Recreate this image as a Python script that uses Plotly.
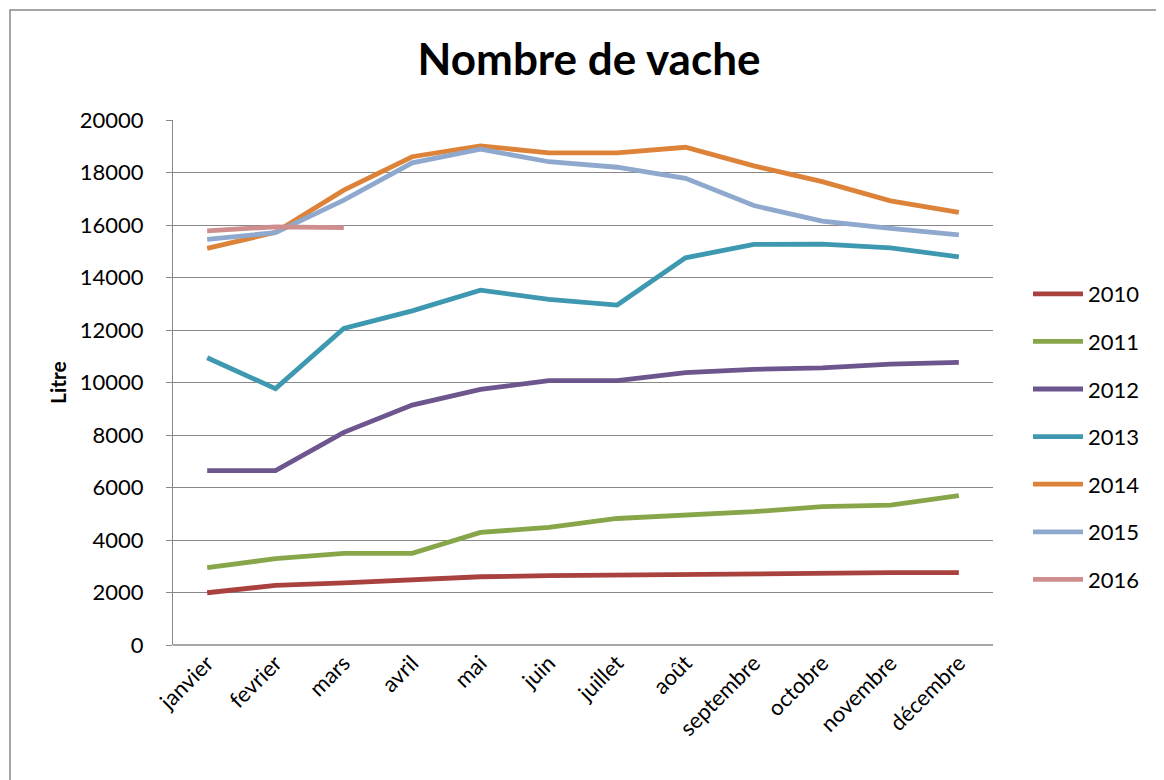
import plotly.graph_objects as go

months = ["janvier", "fevrier", "mars", "avril", "mai", "juin", "juillet",
          "août", "septembre", "octobre", "novembre", "décembre"]

y2010 = [1990, 2270, 2370, 2500, 2600, 2640, 2670, 2690, 2715, 2730, 2755, 2755]
y2011 = [2945, 3290, 3490, 3490, 4290, 4480, 4820, 4950, 5080, 5270, 5330, 5690]
y2012 = [6640, 6640, 8100, 9140, 9740, 10070, 10070, 10375, 10500, 10560, 10700, 10770]
y2013 = [10945, 9765, 12060, 12730, 13520, 13170, 12950, 14750, 15260, 15270, 15130, 14790]
y2014 = [15110, 15720, 17330, 18600, 19010, 18750, 18750, 18960, 18250, 17650, 16920, 16480]
y2015 = [15450, 15710, 16950, 18370, 18890, 18410, 18200, 17780, 16740, 16150, 15870, 15620]
y2016 = [15780, 15930, 15900]

series = [
    ("2010", y2010, "#A9423F"),
    ("2011", y2011, "#87A64A"),
    ("2012", y2012, "#6D558E"),
    ("2013", y2013, "#3D98B0"),
    ("2014", y2014, "#DD8339"),
    ("2015", y2015, "#8FA8CD"),
    ("2016", y2016, "#CE8E8E"),
]

FONT = "Lato, 'Open Sans', sans-serif"

# page offset (body margin) compensation
OX, OY = 8, 8
PL, PR, PT, PB = 173, 993, 120, 645  # target plot area in screen pixels
PW, PH = PR - PL, PB - PT

fig = go.Figure()
for name, vals, col in series:
    fig.add_trace(go.Scatter(
        x=months[:len(vals)], y=vals, name=name, mode="lines",
        line=dict(color=col, width=4.8), legendgroup=name,
    ))

fig.update_layout(
    width=1164, height=780,
    margin=dict(l=PL - OX, r=1164 + OX - PR, t=PT - OY, b=780 + OY - PB),
    paper_bgcolor="white", plot_bgcolor="white",
    font=dict(family=FONT, color="black", size=22),
    showlegend=True,
    legend=dict(x=(1028 - PL) / PW, y=(PB - 437) / PH, xanchor="left", yanchor="middle",
                font=dict(size=22, family=FONT), tracegroupgap=16,
                itemwidth=50, bgcolor="rgba(0,0,0,0)"),
    title=dict(text="<b>Nombre de vache</b>", xref="container", x=(589 - OX) / 1164,
               xanchor="center", yref="container", y=1 - (60 - OY) / 780, yanchor="middle",
               font=dict(size=44, family=FONT, color="black")),
)

fig.update_xaxes(
    type="category", categoryorder="array", categoryarray=months,
    range=[-0.5, 11.5], showgrid=False, showline=False, ticks="",
    tickangle=-45, tickfont=dict(size=22, family=FONT), zeroline=False,
)
fig.update_yaxes(
    range=[0, 20000], dtick=2000, tickformat="d",
    showgrid=True, gridcolor="#888888", gridwidth=1,
    showline=True, linecolor="#888888", linewidth=1,
    ticks="outside", ticklen=6, tickcolor="#888888",
    ticklabelstandoff=18, zeroline=False,
    tickfont=dict(size=22, family=FONT),
)

# bottom axis line
fig.add_shape(type="line", xref="paper", yref="paper", x0=0, x1=1, y0=0, y1=0,
              line=dict(color="#888888", width=1.5))
# outer chart frame
fig.add_shape(type="rect", xref="paper", yref="paper",
              x0=(10 - PL) / PW, x1=(1200 - PL) / PW,
              y0=(PB - 800) / PH, y1=(PB - 10) / PH,
              line=dict(color="#888888", width=1.5), layer="below")

fig.add_annotation(text="<b>Litre</b>", xref="paper", yref="paper",
                   x=(57 - PL) / PW, y=(PB - 383) / PH, textangle=-90,
                   showarrow=False, font=dict(size=21, family=FONT, color="black"),
                   xanchor="center", yanchor="middle")

fig.write_html("out.html")
